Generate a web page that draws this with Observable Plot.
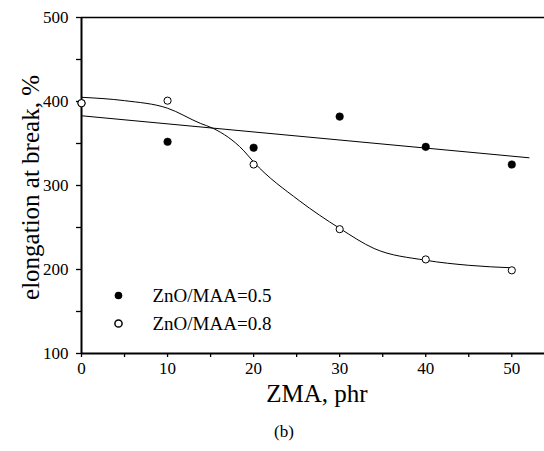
<!DOCTYPE html>
<html>
<head>
<meta charset="utf-8">
<script src="https://cdn.jsdelivr.net/npm/d3@7"></script>
<script src="https://cdn.jsdelivr.net/npm/@observablehq/plot@0.6"></script>
<style>
  body { margin: 0; background: #fff; }
  #chart { width: 544px; }
  #chart svg, #chart svg text { font-family: "Liberation Serif", "Times New Roman", serif !important; }
  #caption { width: 544px; box-sizing: border-box; padding-left: 24px; text-align: center;
    font-family: "Liberation Serif", "Times New Roman", serif; font-size: 17px; line-height: 20px; margin-top: 12px; }
</style>
</head>
<body>
<div id="chart"></div>
<div id="caption">(b)</div>
<script>
// ZnO/MAA = 0.5 (filled circles)
const zma05 = [0, 10, 20, 30, 40, 50];
const elong05 = [398, 352, 345, 382, 346, 325];
// ZnO/MAA = 0.8 (open circles)
const zma08 = [0, 10, 20, 30, 40, 50];
const elong08 = [398, 401, 325, 248, 212, 199];
// linear fit line for 0.5
const fit05X = [0, 52];
const fit05Y = [383, 333];
// sigmoidal fit curve for 0.8
const fit08X = [0, 5, 10, 13.8, 15.3, 18.8, 20, 25.3, 30, 34, 40, 45, 50];
const fit08Y = [405, 401, 392, 374, 368, 342, 328, 282, 249, 225, 211, 205, 202];
// ticks
const xTicks = [0, 5, 10, 15, 20, 25, 30, 35, 40, 45, 50];
const yTicks = [100, 150, 200, 250, 300, 350, 400, 450, 500];
const legendLabels = ["ZnO/MAA=0.5", "ZnO/MAA=0.8"];
const xLabel = "ZMA, phr";
const yLabel = "elongation at break, %";

const pts05 = zma05.map((x, i) => ({x, y: elong05[i]}));
const pts08 = zma08.map((x, i) => ({x, y: elong08[i]}));
const line05 = fit05X.map((x, i) => ({x, y: fit05Y[i]}));
const line08 = fit08X.map((x, i) => ({x, y: fit08Y[i]}));

const font = "\"Liberation Serif\", \"Times New Roman\", serif";

const chart = Plot.plot({
  width: 544,
  height: 410,
  marginLeft: 81,
  marginRight: 0,
  marginTop: 17,
  marginBottom: 57,
  style: {fontFamily: font, background: "#fff", color: "#000", overflow: "visible"},
  x: {domain: [0, 53.8]},
  y: {domain: [100, 500]},
  marks: [
    Plot.axisX({ticks: xTicks, tickFormat: d => d % 10 === 0 ? String(d) : "", tickSize: 4, tickPadding: 4, fontSize: 17, fontFamily: font, label: null, strokeWidth: 1.3}),
    Plot.axisY({ticks: yTicks, tickFormat: d => d % 100 === 0 ? String(d) : "", tickSize: 5, tickPadding: 8, fontSize: 17, fontFamily: font, label: null, strokeWidth: 1.3}),
    Plot.ruleY([100], {stroke: "#000", strokeWidth: 2}),
    Plot.ruleX([0], {stroke: "#000", strokeWidth: 2}),
    Plot.ruleY([500], {stroke: "#000", strokeWidth: 1.5}),
    Plot.line(line05, {x: "x", y: "y", stroke: "#000", strokeWidth: 1}),
    Plot.line(line08, {x: "x", y: "y", stroke: "#000", strokeWidth: 1, curve: "monotone-x"}),
    Plot.dot(pts05, {x: "x", y: "y", r: 3.8, fill: "#000", stroke: "#000", strokeWidth: 0.5}),
    Plot.dot(pts08, {x: "x", y: "y", r: 3.6, fill: "#fff", stroke: "#000", strokeWidth: 1}),
    // legend
    Plot.dot([legendLabels[0]], {frameAnchor: "bottom-left", dx: 37, dy: -58, r: 3.8, fill: "#000"}),
    Plot.dot([legendLabels[1]], {frameAnchor: "bottom-left", dx: 37, dy: -30, r: 3.6, fill: "#fff", stroke: "#000"}),
    Plot.text([legendLabels[0]], {text: d => d, frameAnchor: "bottom-left", dx: 71, dy: -58, textAnchor: "start", lineAnchor: "middle", fontSize: 19, fontFamily: font, fill: "#000"}),
    Plot.text([legendLabels[1]], {text: d => d, frameAnchor: "bottom-left", dx: 71, dy: -30, textAnchor: "start", lineAnchor: "middle", fontSize: 19, fontFamily: font, fill: "#000"}),
    // axis titles
    Plot.text([xLabel], {text: d => d, frameAnchor: "bottom", dx: 4, dy: 40, textAnchor: "middle", lineAnchor: "middle", fontSize: 25, fontFamily: font, fill: "#000"}),
    Plot.text([yLabel], {text: d => d, frameAnchor: "left", dx: -51, dy: 2, rotate: -90, textAnchor: "middle", lineAnchor: "middle", fontSize: 25, fontFamily: font, fill: "#000"})
  ]
});
document.getElementById("chart").appendChild(chart);
</script>
</body>
</html>
